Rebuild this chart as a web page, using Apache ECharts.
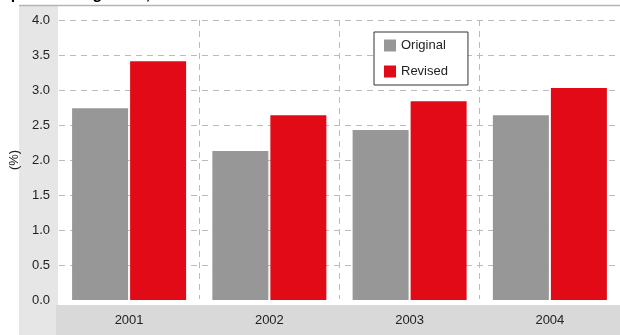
<!DOCTYPE html>
<html>
<head>
<meta charset="utf-8">
<script src="https://cdn.jsdelivr.net/npm/echarts@6/dist/echarts.min.js"></script>
<style>
html,body{margin:0;padding:0;background:#fff;}
#chart{width:620px;height:335px;}
</style>
</head>
<body>
<div id="chart"></div>
<script>
var categories = ['2001', '2002', '2003', '2004'];
var originalValues = [2.74, 2.13, 2.43, 2.64];
var revisedValues = [3.41, 2.64, 2.84, 3.03];
var seriesNames = ['Original', 'Revised'];
var yAxisName = '(%)';
var titleText = 'Spain: GDP growth, 2001-04';

var chart = echarts.init(document.getElementById('chart'), null, {renderer: 'canvas'});
var font = '"Liberation Sans", Arial, sans-serif';
chart.setOption({
  animation: false,
  textStyle: {fontFamily: font},
  graphic: [
    {type: 'rect', z: -10, shape: {x: 19, y: 5, width: 39, height: 330}, style: {fill: '#e6e6e6'}},
    {type: 'rect', z: -10, shape: {x: 56, y: 305, width: 564, height: 30}, style: {fill: '#d9d9d9'}},
    {type: 'line', z: -5, shape: {x1: 19, y1: 5.5, x2: 620, y2: 5.5}, style: {stroke: '#b4b4b4', lineWidth: 1.5}},
    {type: 'text', z: 10, x: 0, y: -13.5, style: {text: titleText, fill: '#000', font: 'bold 16px ' + font}}
  ],
  grid: {left: 58, top: 20, width: 564, height: 280, containLabel: false},
  legend: {
    orient: 'vertical',
    left: 374, top: 32,
    data: seriesNames,
    icon: 'rect',
    itemWidth: 12, itemHeight: 12, itemGap: 13,
    padding: [7, 20, 7, 10],
    borderColor: '#333', borderWidth: 1, backgroundColor: '#fff',
    textStyle: {fontSize: 13, color: '#222', fontFamily: font}
  },
  xAxis: {
    type: 'category',
    data: categories,
    axisLine: {show: true, lineStyle: {color: '#fff', width: 2}},
    axisTick: {show: false},
    axisLabel: {fontSize: 13, color: '#222', margin: 14},
    splitLine: {show: true, interval: function (i) { return i > 0; }, lineStyle: {color: '#bbb', type: [6, 5], width: 1}}
  },
  yAxis: {
    type: 'value',
    min: 0, max: 4, interval: 0.5,
    name: yAxisName,
    nameLocation: 'middle',
    nameRotate: 90,
    nameGap: 33,
    nameTextStyle: {fontSize: 13, color: '#222'},
    axisLine: {show: false},
    axisTick: {show: false},
    axisLabel: {fontSize: 13, color: '#222', margin: 9, formatter: function (v) { return v.toFixed(1); }},
    splitLine: {show: true, lineStyle: {color: '#bbb', type: [6, 5], width: 1}}
  },
  series: [
    {name: seriesNames[0], type: 'bar', data: originalValues, barWidth: 56, barGap: '3.6%', itemStyle: {color: '#979797'}},
    {name: seriesNames[1], type: 'bar', data: revisedValues, barWidth: 56, barGap: '3.6%', itemStyle: {color: '#e20a17'}}
  ]
});
</script>
</body>
</html>
